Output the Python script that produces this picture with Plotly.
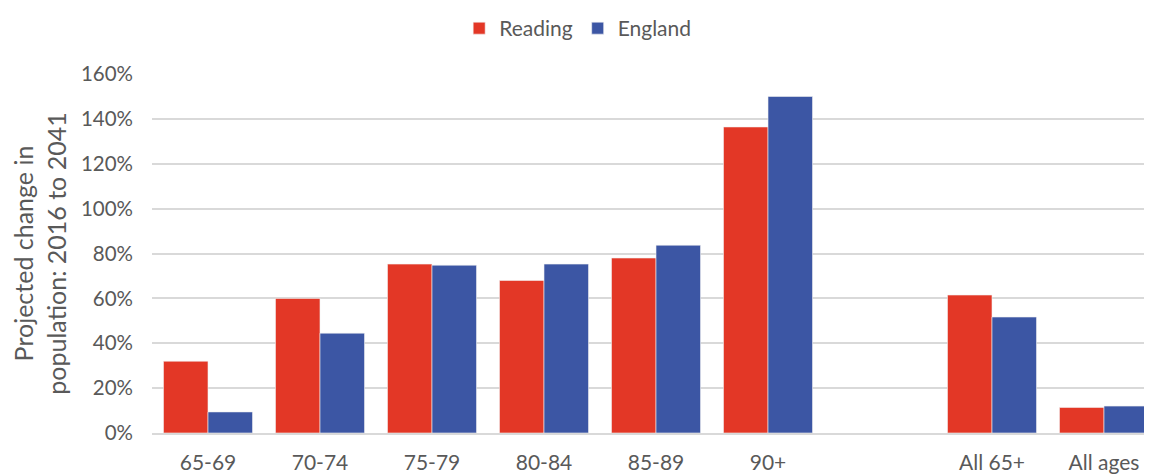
import plotly.graph_objects as go

categories = ["65-69", "70-74", "75-79", "80-84", "85-89", "90+", " ", "All 65+", "All ages"]
reading = [0.32, 0.60, 0.753, 0.68, 0.78, 1.364, None, 0.615, 0.114]
england = [0.094, 0.445, 0.748, 0.753, 0.837, 1.50, None, 0.517, 0.12]

fig = go.Figure()
fig.add_trace(go.Bar(x=categories, y=reading, name="Reading", marker_color="#E33726",
                     marker_line=dict(color="#F2F2F2", width=0.6)))
fig.add_trace(go.Bar(x=categories, y=england, name="England", marker_color="#3C56A4",
                     marker_line=dict(color="#F2F2F2", width=0.6)))

# the page body adds an 8px offset, so the margins are shifted to compensate
fig.update_layout(
    width=1152, height=475,
    margin=dict(l=144, r=0, t=66, b=50, autoexpand=False),
    plot_bgcolor="white", paper_bgcolor="white",
    font=dict(family="Lato, Open Sans, sans-serif", size=20, color="#595959"),
    barmode="group", bargap=0.205, bargroupgap=0,
    legend=dict(orientation="h", x=0.4945, xanchor="center", xref="container",
                y=1.0, yanchor="top", yref="container", font=dict(size=21)),
)
fig.update_xaxes(type="category", categoryorder="array", categoryarray=categories,
                 showline=True, linecolor="#D9D9D9", linewidth=1.5, ticks="",
                 tickfont=dict(size=21), ticklabelstandoff=10, automargin=False)
fig.update_yaxes(range=[0, 1.6], dtick=0.2, tickformat=".0%", gridcolor="#D9D9D9",
                 gridwidth=1.5, zeroline=False, ticks="",
                 title=dict(text="Projected change in<br>population: 2016 to 2041",
                            font=dict(size=25), standoff=14),
                 tickfont=dict(size=20.5), ticklabelstandoff=18, automargin=False)

fig.write_html("out.html")
